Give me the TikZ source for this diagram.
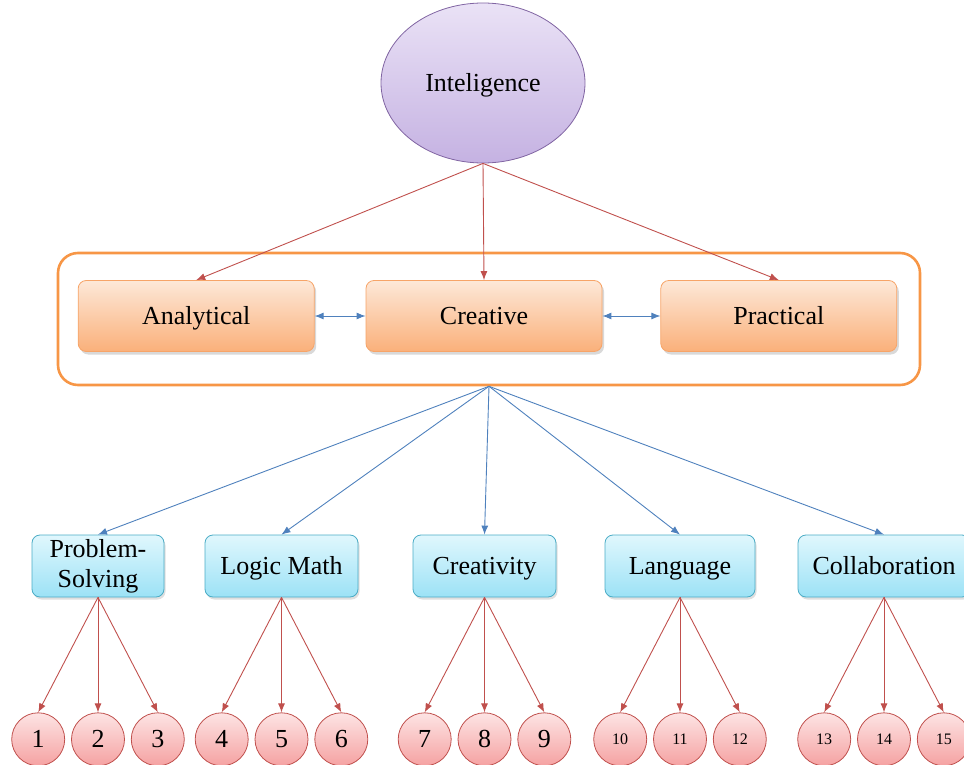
\documentclass[tikz,border=0pt]{standalone}
\usepackage{fontspec}
\setmainfont{Liberation Serif}
\usetikzlibrary{positioning, shadows, arrows.meta, shapes.geometric}

\definecolor{lavtop}{HTML}{EAE2F6}
\definecolor{lavbot}{HTML}{C5B2E2}
\definecolor{lavline}{HTML}{8064A2}
\definecolor{orgtop}{HTML}{FDE8D8}
\definecolor{orgbot}{HTML}{FAB07A}
\definecolor{orgline}{HTML}{F7A468}
\definecolor{frameline}{HTML}{F79646}
\definecolor{cyntop}{HTML}{E0F7FD}
\definecolor{cynbot}{HTML}{9CE2F6}
\definecolor{cynline}{HTML}{4BACC6}
\definecolor{pnktop}{HTML}{FDE4E4}
\definecolor{pnkbot}{HTML}{F5A2A2}
\definecolor{redline}{HTML}{C0504D}
\definecolor{blueline}{HTML}{4F81BD}

\begin{document}
\begin{tikzpicture}[
    x=1pt, y=-1pt,
    every node/.style = {font=\fontsize{26}{30}\selectfont, align=center},
    >={Latex[length=9pt, width=7pt]},
    oneline/.style = {text height=19.5pt, text depth=2.3pt},
    top/.style = {ellipse, oneline, draw=lavline, line width=0.8pt, top color=lavtop, bottom color=lavbot,
        minimum width=204pt, minimum height=160pt},
    frame/.style = {draw=frameline, line width=2.6pt, rounded corners=20pt},
    kind/.style = {oneline, draw=orgline, line width=0.8pt, rounded corners=8pt, top color=orgtop, bottom color=orgbot,
        minimum width=236pt, minimum height=71pt,
        drop shadow={shadow xshift=2pt, shadow yshift=-3pt, opacity=0.3}},
    skill/.style = {draw=cynline, line width=0.8pt, rounded corners=8pt, top color=cyntop, bottom color=cynbot,
        minimum height=62pt, inner sep=2pt,
        drop shadow={shadow xshift=1.5pt, shadow yshift=-2.5pt, opacity=0.25}},
    item/.style = {circle, draw=redline, line width=0.8pt, top color=pnktop, bottom color=pnkbot,
        minimum size=53pt, inner sep=0pt},
    small/.style = {font=\fontsize{16}{18}\selectfont},
    red/.style = {->, draw=redline, line width=0.9pt},
    blue/.style = {->, draw=blueline, line width=0.9pt}
]
    \useasboundingbox (0,0) rectangle (964,765);

    \node[top] (intel) at (483,83) {Inteligence};

    \node[frame, minimum width=862pt, minimum height=132pt] (grp) at (489,319) {};
    \node[kind] (cre) at (484,316) {Creative};
    \node[kind, left=51pt of cre] (ana) {Analytical};
    \node[kind, right=58pt of cre] (pra) {Practical};

    \node[skill, minimum width=132pt] (ps) at (98,566) {Problem-\\Solving};
    \node[skill, oneline, minimum width=153pt] (lm) at (281.5,566) {Logic Math};
    \node[skill, oneline, minimum width=143pt] (cr) at (484.5,566) {Creativity};
    \node[skill, oneline, minimum width=150pt] (lang) at (680,566) {Language};
    \node[skill, oneline, minimum width=172pt] (col) at (884,566) {Collaboration};

    \node[item, below=115pt of ps] (n2) {2};
    \node[item, left=6pt of n2] (n1) {1};
    \node[item, right=6pt of n2] (n3) {3};
    \node[item, below=115pt of lm] (n5) {5};
    \node[item, left=6pt of n5] (n4) {4};
    \node[item, right=6pt of n5] (n6) {6};
    \node[item, below=115pt of cr] (n8) {8};
    \node[item, left=6pt of n8] (n7) {7};
    \node[item, right=6pt of n8] (n9) {9};
    \node[item, small, below=115pt of lang] (n11) {11};
    \node[item, small, left=6pt of n11] (n10) {10};
    \node[item, small, right=6pt of n11] (n12) {12};
    \node[item, small, below=115pt of col] (n14) {14};
    \node[item, small, left=6pt of n14] (n13) {13};
    \node[item, small, right=6pt of n14] (n15) {15};

    \draw[red] (intel.south) -- (ana.north);
    \draw[red] (intel.south) -- (cre.north);
    \draw[red] (intel.south) -- (pra.north);

    \draw[<->, draw=blueline, line width=0.9pt] (ana) -- (cre);
    \draw[<->, draw=blueline, line width=0.9pt] (cre) -- (pra);

    \draw[blue] (grp.south) -- (ps.north);
    \draw[blue] (grp.south) -- (lm.north);
    \draw[blue] (grp.south) -- (cr.north);
    \draw[blue] (grp.south) -- (lang.north);
    \draw[blue] (grp.south) -- (col.north);

    \draw[red] (ps.south) -- (n1.north);
    \draw[red] (ps.south) -- (n2.north);
    \draw[red] (ps.south) -- (n3.north);
    \draw[red] (lm.south) -- (n4.north);
    \draw[red] (lm.south) -- (n5.north);
    \draw[red] (lm.south) -- (n6.north);
    \draw[red] (cr.south) -- (n7.north);
    \draw[red] (cr.south) -- (n8.north);
    \draw[red] (cr.south) -- (n9.north);
    \draw[red] (lang.south) -- (n10.north);
    \draw[red] (lang.south) -- (n11.north);
    \draw[red] (lang.south) -- (n12.north);
    \draw[red] (col.south) -- (n13.north);
    \draw[red] (col.south) -- (n14.north);
    \draw[red] (col.south) -- (n15.north);
\end{tikzpicture}
\end{document}
